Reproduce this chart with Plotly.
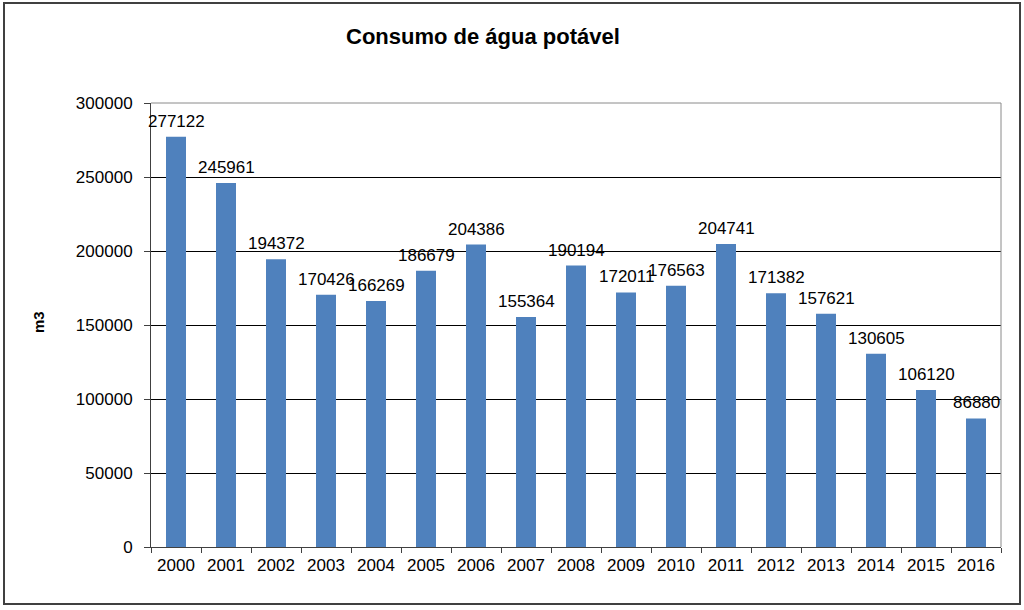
import plotly.graph_objects as go

years = ["2000", "2001", "2002", "2003", "2004", "2005", "2006", "2007", "2008",
         "2009", "2010", "2011", "2012", "2013", "2014", "2015", "2016"]
consumo = [277122, 245961, 194372, 170426, 166269, 186679, 204386, 155364, 190194,
           172011, 176563, 204741, 171382, 157621, 130605, 106120, 86880]
y_ticks = [0, 50000, 100000, 150000, 200000, 250000, 300000]

BAR = "#4F81BD"
FONT = "Liberation Sans, Arial, sans-serif"
FS = 17

fig = go.Figure()
fig.add_trace(go.Bar(x=years, y=consumo, marker=dict(color=BAR, line=dict(width=0)),
                     width=0.4, hoverinfo="x+y"))

for i, v in enumerate(consumo):
    fig.add_annotation(x=i, y=v, text=str(v), showarrow=False, yanchor="bottom",
                       xanchor="center", yshift=4, font=dict(size=FS, color="black", family=FONT))

L, R, T, B = 151, 23, 103, 63
W, H = 1024, 610
pw, ph = W - L - R, H - T - B

# outer chart frame
fig.add_shape(type="rect", xref="paper", yref="paper",
              x0=(4 - L) / pw, x1=(1020 - L) / pw,
              y0=(H - B - 604) / ph, y1=(H - B - 3) / ph,
              line=dict(color="#404040", width=2), layer="below")
# plot area border (top and right, gray)
fig.add_shape(type="line", xref="paper", yref="paper", x0=0, x1=1, y0=1, y1=1,
              line=dict(color="#8a8a8a", width=1), layer="above")
fig.add_shape(type="line", xref="paper", yref="paper", x0=1, x1=1, y0=0, y1=1,
              line=dict(color="#8a8a8a", width=1), layer="above")

fig.add_annotation(text="<b>Consumo de água potável</b>", xref="paper", yref="paper",
                   x=(483 - L) / pw, y=(H - B - 37) / ph, showarrow=False,
                   xanchor="center", yanchor="middle",
                   font=dict(size=22, color="black", family=FONT))
fig.add_annotation(text="<b>m3</b>", xref="paper", yref="paper",
                   x=(38 - L) / pw, y=(H - B - 322) / ph, showarrow=False, textangle=-90,
                   xanchor="center", yanchor="middle",
                   font=dict(size=15, color="black", family=FONT))

fig.update_layout(
    width=W, height=H,
    margin=dict(l=L, r=R, t=T, b=B, pad=0),
    paper_bgcolor="white", plot_bgcolor="white",
    showlegend=False,
    font=dict(family=FONT, size=FS, color="black"),
    xaxis=dict(type="category", range=[-0.5, len(years) - 0.5], automargin=False,
               tickangle=0, showgrid=False, showline=True, linecolor="#404040",
               linewidth=1, ticks="outside", tickson="boundaries", ticklen=5,
               tickcolor="#404040", ticklabelstandoff=3,
               tickfont=dict(size=FS, family=FONT, color="black")),
    yaxis=dict(range=[0, 300000], tickvals=y_ticks, ticktext=[str(t) for t in y_ticks],
               automargin=False,
               showgrid=True, gridcolor="black", gridwidth=1, zeroline=False,
               showline=True, linecolor="#404040", linewidth=1, ticks="outside",
               ticklen=6, tickcolor="#404040", ticklabelstandoff=8,
               tickfont=dict(size=FS, family=FONT, color="black")),
)

fig.write_html("out.html", config={"displayModeBar": False},
               post_script="document.body.style.margin='0px';")
